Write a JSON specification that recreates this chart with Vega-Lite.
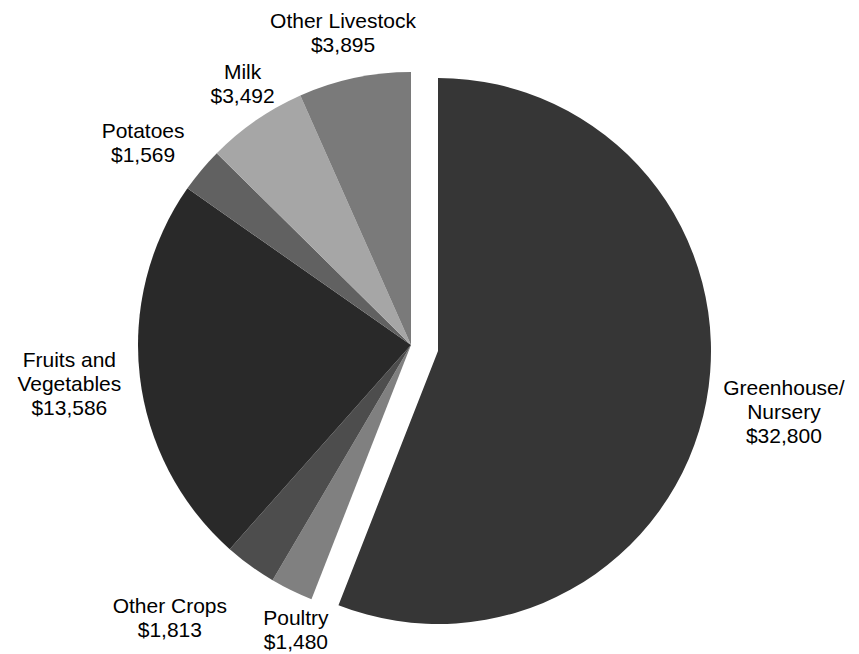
{
  "$schema": "https://vega.github.io/schema/vega-lite/v6.json",
  "width": 700,
  "height": 600,
  "autosize": {"type": "none"},
  "padding": {"left": 61, "top": 45, "right": 98, "bottom": 9},
  "background": "white",
  "config": {
    "view": {"stroke": null},
    "text": {"font": "Liberation Sans", "fontSize": 21, "lineHeight": 24, "lineBreak": "\n", "align": "center", "baseline": "middle", "color": "black"}
  },
  "data": {
    "values": [
      {"category": "Greenhouse/Nursery", "label": "Greenhouse/\nNursery\n$32,800", "value": 32800, "rank": 1},
      {"category": "Poultry", "label": "Poultry\n$1,480", "value": 1480, "rank": 2},
      {"category": "Other Crops", "label": "Other Crops\n$1,813", "value": 1813, "rank": 3},
      {"category": "Fruits and Vegetables", "label": "Fruits and\nVegetables\n$13,586", "value": 13586, "rank": 4},
      {"category": "Potatoes", "label": "Potatoes\n$1,569", "value": 1569, "rank": 5},
      {"category": "Milk", "label": "Milk\n$3,492", "value": 3492, "rank": 6},
      {"category": "Other Livestock", "label": "Other Livestock\n$3,895", "value": 3895, "rank": 7}
    ]
  },
  "encoding": {
    "theta": {"field": "value", "type": "quantitative", "stack": true},
    "order": {"field": "rank", "type": "quantitative"}
  },
  "layer": [
    {
      "mark": {"type": "arc", "radius": 273, "stroke": null},
      "encoding": {
        "color": {
          "field": "category",
          "type": "nominal",
          "legend": null,
          "scale": {
            "domain": ["Greenhouse/Nursery", "Poultry", "Other Crops", "Fruits and Vegetables", "Potatoes", "Milk", "Other Livestock"],
            "range": ["#363636", "#808080", "#4d4d4d", "#292929", "#616161", "#a6a6a6", "#7a7a7a"]
          }
        },
        "opacity": {"condition": {"test": "datum.category === 'Greenhouse/Nursery'", "value": 0}, "value": 1}
      }
    },
    {
      "mark": {"type": "arc", "radius": 273, "stroke": null, "xOffset": 27, "yOffset": 6},
      "encoding": {
        "color": {"field": "category", "type": "nominal", "legend": null},
        "opacity": {"condition": {"test": "datum.category === 'Greenhouse/Nursery'", "value": 1}, "value": 0}
      }
    },
    {
      "mark": {"type": "text", "radius": 352, "xOffset": 27, "yOffset": 6, "dy": -27},
      "encoding": {
        "text": {"field": "label", "type": "nominal"},
        "opacity": {"condition": {"test": "datum.category === 'Greenhouse/Nursery'", "value": 1}, "value": 0}
      }
    },
    {
      "mark": {"type": "text", "radius": 344, "dy": -24},
      "encoding": {
        "text": {"field": "label", "type": "nominal"},
        "opacity": {"condition": {"test": "datum.category === 'Fruits and Vegetables'", "value": 1}, "value": 0}
      }
    },
    {
      "mark": {"type": "text", "radius": 328, "dy": -2},
      "encoding": {
        "text": {"field": "label", "type": "nominal"},
        "opacity": {"condition": {"test": "datum.category === 'Other Livestock'", "value": 1}, "value": 0}
      }
    },
    {
      "mark": {"type": "text", "radius": 328, "dx": 18, "dy": -2},
      "encoding": {
        "text": {"field": "label", "type": "nominal"},
        "opacity": {"condition": {"test": "datum.category === 'Milk'", "value": 1}, "value": 0}
      }
    },
    {
      "mark": {"type": "text", "radius": 328, "dx": -16, "dy": -3},
      "encoding": {
        "text": {"field": "label", "type": "nominal"},
        "opacity": {"condition": {"test": "datum.category === 'Potatoes'", "value": 1}, "value": 0}
      }
    },
    {
      "mark": {"type": "text", "radius": 325, "dx": 27, "dy": -18},
      "encoding": {
        "text": {"field": "label", "type": "nominal"},
        "opacity": {"condition": {"test": "datum.category === 'Poultry'", "value": 1}, "value": 0}
      }
    },
    {
      "mark": {"type": "text", "radius": 325, "dx": -50, "dy": -1},
      "encoding": {
        "text": {"field": "label", "type": "nominal"},
        "opacity": {"condition": {"test": "datum.category === 'Other Crops'", "value": 1}, "value": 0}
      }
    }
  ]
}
